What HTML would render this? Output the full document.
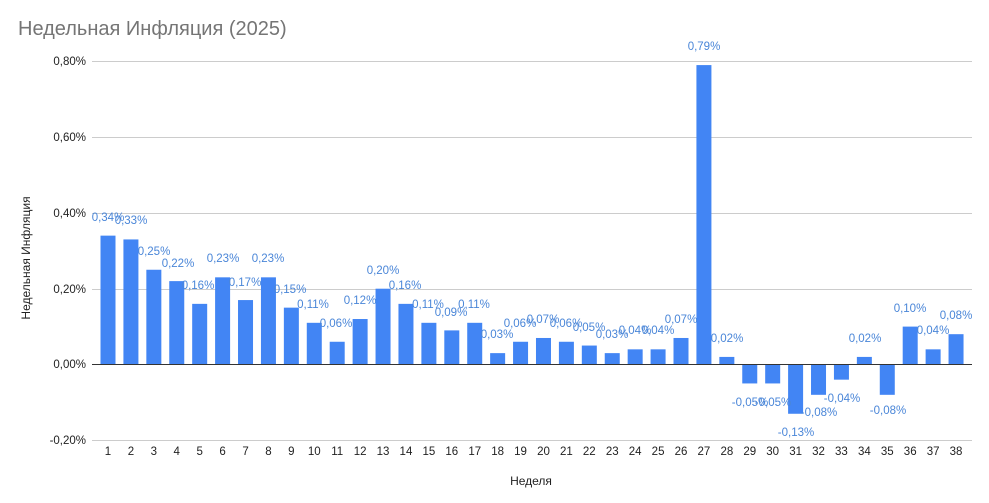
<!DOCTYPE html>
<html><head><meta charset="utf-8"><style>body{margin:0;background:#fff}svg{display:block}text{font-family:"Liberation Sans",Arial,sans-serif}</style></head><body>
<svg width="989" height="503" viewBox="0 0 989 503">
<text x="18" y="35" font-size="20" fill="#757575">Недельная Инфляция (2025)</text>
<g stroke="#cccccc" stroke-width="1">
<line x1="92" x2="972" y1="61.5" y2="61.5"/><line x1="92" x2="972" y1="137.5" y2="137.5"/><line x1="92" x2="972" y1="213.5" y2="213.5"/><line x1="92" x2="972" y1="289.5" y2="289.5"/><line x1="92" x2="972" y1="440.5" y2="440.5"/>
</g>
<g font-size="11.5" fill="#222" text-anchor="end">
<text x="86" y="65">0,80%</text><text x="86" y="141">0,60%</text><text x="86" y="217">0,40%</text><text x="86" y="293">0,20%</text><text x="86" y="368">0,00%</text><text x="86" y="444">-0,20%</text>
</g>
<text transform="translate(30,258) rotate(-90)" font-size="12" fill="#222" text-anchor="middle">Недельная Инфляция</text>
<text x="531" y="485" font-size="12" fill="#222" text-anchor="middle">Неделя</text>
<g id="bars" fill="#4285f4"></g>
<line x1="92" x2="972" y1="364.5" y2="364.5" stroke="#333" stroke-width="1"/>
<g id="xl" font-size="11.5" fill="#222" text-anchor="middle"></g>
<g id="vl" font-size="11.5" fill="#4a86d8" text-anchor="middle"></g>
</svg>
<script>
var v=[0.34,0.33,0.25,0.22,0.16,0.23,0.17,0.23,0.15,0.11,0.06,0.12,0.20,0.16,0.11,0.09,0.11,0.03,0.06,0.07,0.06,0.05,0.03,0.04,0.04,0.07,0.79,0.02,-0.05,-0.05,-0.13,-0.08,-0.04,0.02,-0.08,0.10,0.04,0.08];
var lp=[[108,217],[131,220],[154,251],[178,263],[198,285],[223,258],[245,282],[268,258],[290,289],[313,304],[336,323],[360,300],[383,270],[405,285],[428,304],[451,312],[474,304],[497,334],[520,323],[543,319],[566,323],[589,327],[612,334],[635,330],[658,330],[681,319],[704,46],[727,338],[750,402],[773,402],[796,432],[819,412],[842,398],[865,338],[888,410],[910,308],[933,330],[956,315]];
var ns="http://www.w3.org/2000/svg",b=document.getElementById('bars'),xl=document.getElementById('xl'),vl=document.getElementById('vl');
var z=364.5,s=75.8/0.2;
for(var i=0;i<38;i++){var cx=108+i*22.92;var h=v[i]*s;var r=document.createElementNS(ns,'rect');
r.setAttribute('x',cx-7.5);r.setAttribute('width',15);r.setAttribute('y',h>0?z-h:z);r.setAttribute('height',Math.abs(h));b.appendChild(r);
var t=document.createElementNS(ns,'text');t.setAttribute('x',cx);t.setAttribute('y',455);t.textContent=i+1;xl.appendChild(t);
var u=document.createElementNS(ns,'text');u.setAttribute('x',lp[i][0]);u.setAttribute('y',lp[i][1]+4);u.textContent=v[i].toFixed(2).replace('.',',')+'%';vl.appendChild(u);}
</script>
</body></html>
